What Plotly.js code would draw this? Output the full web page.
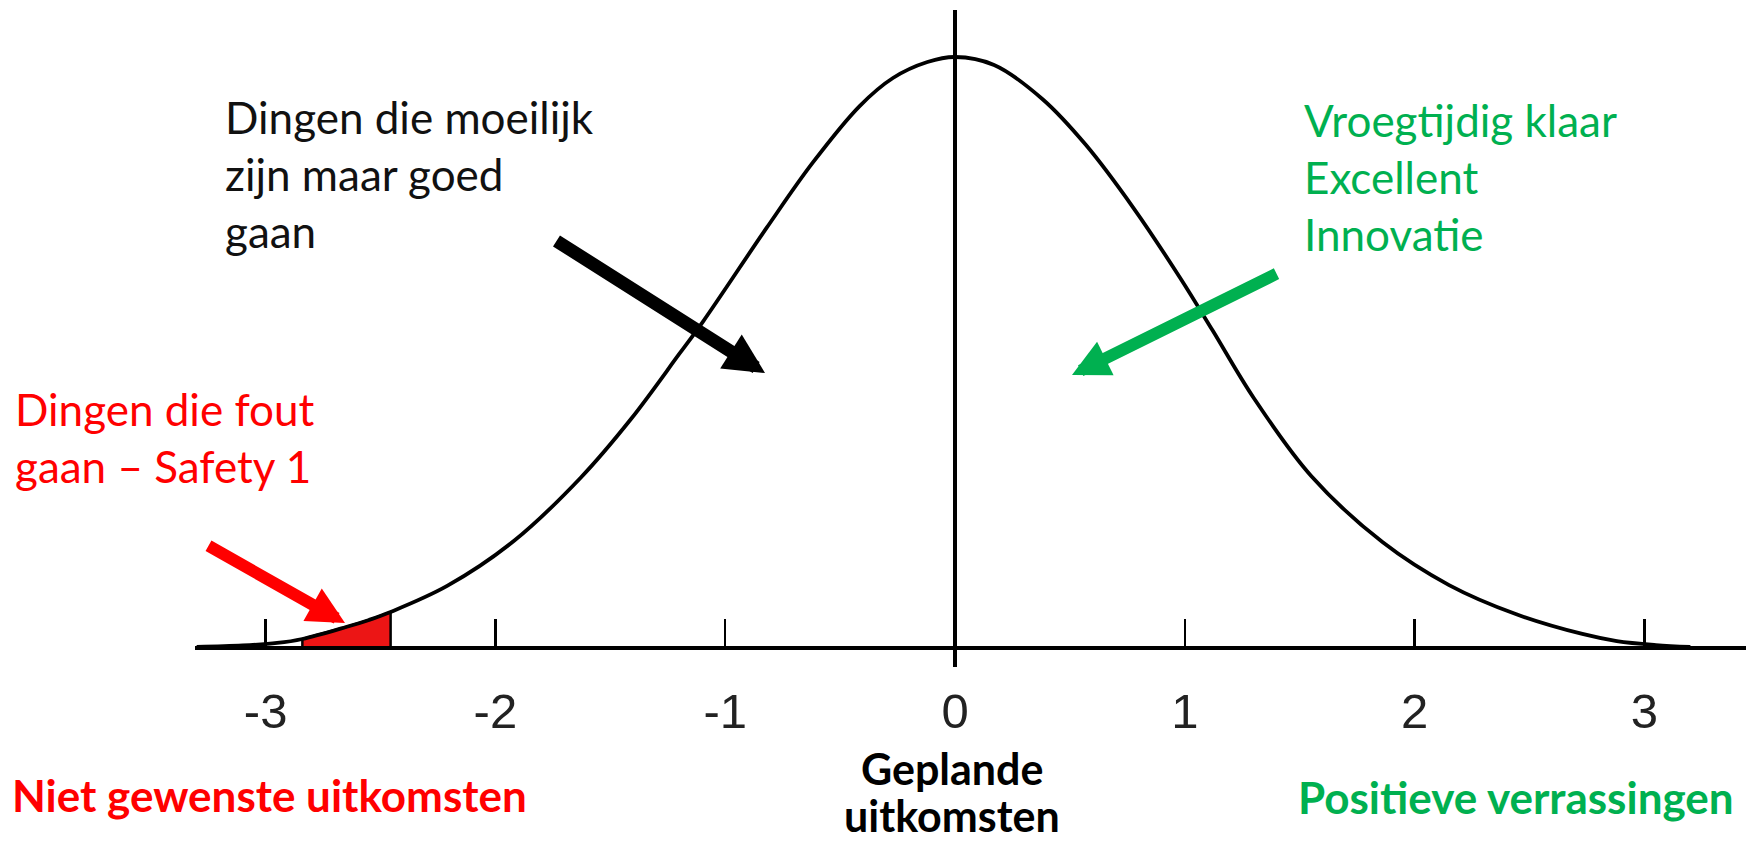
<!DOCTYPE html>
<html><head><meta charset="utf-8">
<script src="https://cdn.plot.ly/plotly-3.0.1.min.js"></script>
<style>html,body{margin:0;padding:0;background:#fff;} #chart{width:1746px;height:844px;}</style>
</head><body><div id="chart"></div>
<script>
// ---- data (x in standard deviations, y = curve height, peak 0.40) ----
const curveX = [-3.30,-3.10,-2.95,-2.84,-2.65,-2.55,-2.456,-2.21,-1.92,-1.63,-1.41,-1.20,-1.095,-0.82,-0.62,-0.415,-0.27,-0.12,0,
                0.17,0.38,0.57,0.78,0.98,1.12,1.30,1.55,1.86,2.15,2.44,2.73,2.88,3.05,3.20];
const curveY = [0.0007,0.0017,0.0034,0.0061,0.0142,0.0190,0.0244,0.0420,0.0724,0.1151,0.1550,0.1990,0.2213,0.2843,0.3283,0.3668,0.3858,0.3966,0.4000,
                0.3946,0.3716,0.3404,0.2971,0.2504,0.2152,0.1692,0.1164,0.0717,0.0426,0.0230,0.0095,0.0047,0.0020,0.0007];
const badFrom = -2.84, badTo = -2.456;      // red shaded tail
const meanX = 0;                              // planned outcome line
const tickVals = [-3,-2,-1,0,1,2,3];
const tickText = ['-3','-2','-1','0','1','2','3'];
const labelBlack = 'Dingen die moeilijk<br>zijn maar goed<br>gaan';
const labelRed = 'Dingen die fout<br>gaan – Safety 1';
const labelGreen = 'Vroegtijdig klaar<br>Excellent<br>Innovatie';
const bottomLeft = 'Niet gewenste uitkomsten';
const bottomMid = ['Geplande', 'uitkomsten'];
const bottomRight = 'Positieve verrassingen';

// ---- pixel helpers (layout placement only) ----
const W = 1746, H = 844, ML = 195;
const PX0 = 955, PXU = 229.8, PY0 = 648, PYU = 1477.5;
const X = px => (px - PX0) / PXU;
const Y = py => (PY0 - py) / PYU;
const XP = px => (px - ML) / (W - ML);   // paper x

const RED = '#FF0000', GREEN = '#00B050', FILLRED = '#EC1515';
const TXT = 'Lato, "Open Sans", sans-serif';

// shaded tail polygon from the curve points
const fx = [], fy = [];
curveX.forEach((x, i) => { if (x >= badFrom - 1e-9 && x <= badTo + 1e-9) { fx.push(x); fy.push(curveY[i]); } });
const polyX = fx.concat([fx[fx.length - 1], fx[0], fx[0]]);
const polyY = fy.concat([0, 0, fy[0]]);

const traces = [
  {x: polyX, y: polyY, type: 'scatter', mode: 'lines', fill: 'toself', fillcolor: FILLRED,
   line: {color: '#000', width: 2.5}, hoverinfo: 'skip', showlegend: false},
  {x: curveX, y: curveY, type: 'scatter', mode: 'lines', line: {color: '#000', width: 3.8, shape: 'spline', smoothing: 1},
   hoverinfo: 'skip', showlegend: false}
];

const ann = (text, px, py, color, opts) => Object.assign({
  text: text, x: XP(px), y: Y(py), xref: 'paper', yref: 'y', showarrow: false,
  xanchor: 'left', yanchor: 'top', align: 'left',
  font: {family: TXT, size: 44, color: color}
}, opts || {});
const arrow = (tipPx, tipPy, tailPx, tailPy, color, width) => ({
  text: '', x: XP(tipPx), y: Y(tipPy), xref: 'paper', yref: 'y', showarrow: true,
  ax: tailPx - tipPx, ay: tailPy - tipPy, arrowhead: 2, arrowsize: 0.62, arrowwidth: width,
  arrowcolor: color, standoff: 0, startstandoff: 0
});

const layout = {
  width: W, height: H, margin: {l: ML, r: 0, t: 0, b: 0},
  paper_bgcolor: '#fff', plot_bgcolor: '#fff', showlegend: false,
  xaxis: {range: [X(ML), X(W)], anchor: 'free', position: (H - PY0) / H,
          showline: true, linecolor: '#000', linewidth: 4, showgrid: false, zeroline: false,
          ticks: 'inside', ticklen: 27, tickwidth: 2.5, tickcolor: '#000',
          tickvals: tickVals, ticktext: tickText, ticklabelstandoff: 19,
          tickfont: {family: '"Liberation Sans", Arial, sans-serif', size: 49, color: '#222'}},
  yaxis: {range: [Y(H), Y(0)], visible: false, showgrid: false, zeroline: false},
  shapes: [
    {type: 'line', xref: 'x', yref: 'y', x0: meanX, x1: meanX, y0: Y(667), y1: Y(10),
     line: {color: '#000', width: 4}, layer: 'above'}
  ],
  annotations: [
    ann(labelBlack, 223, 89, '#111'),
    ann(labelRed, 13, 381, RED),
    ann(labelGreen, 1302, 92, GREEN),
    ann('<b>' + bottomLeft + '</b>', 10, 767, RED),
    ann('<b>' + bottomMid[0] + '</b>', 952, 741, '#000',
        {xanchor: 'center', align: 'center', font: {family: TXT, size: 43, color: '#000'}}),
    ann('<b>' + bottomMid[1] + '</b>', 952, 843, '#000',
        {xanchor: 'center', yanchor: 'bottom', align: 'center', font: {family: TXT, size: 43, color: '#000'}}),
    ann('<b>' + bottomRight + '</b>', 1296, 769, GREEN),
    arrow(765, 373, 555, 240, '#000', 13),
    arrow(1072, 375, 1278, 273, GREEN, 12),
    arrow(345, 623, 207, 545, RED, 12)
  ]
};

Plotly.newPlot('chart', traces, layout, {displayModeBar: false, staticPlot: true});
</script>
</body></html>
